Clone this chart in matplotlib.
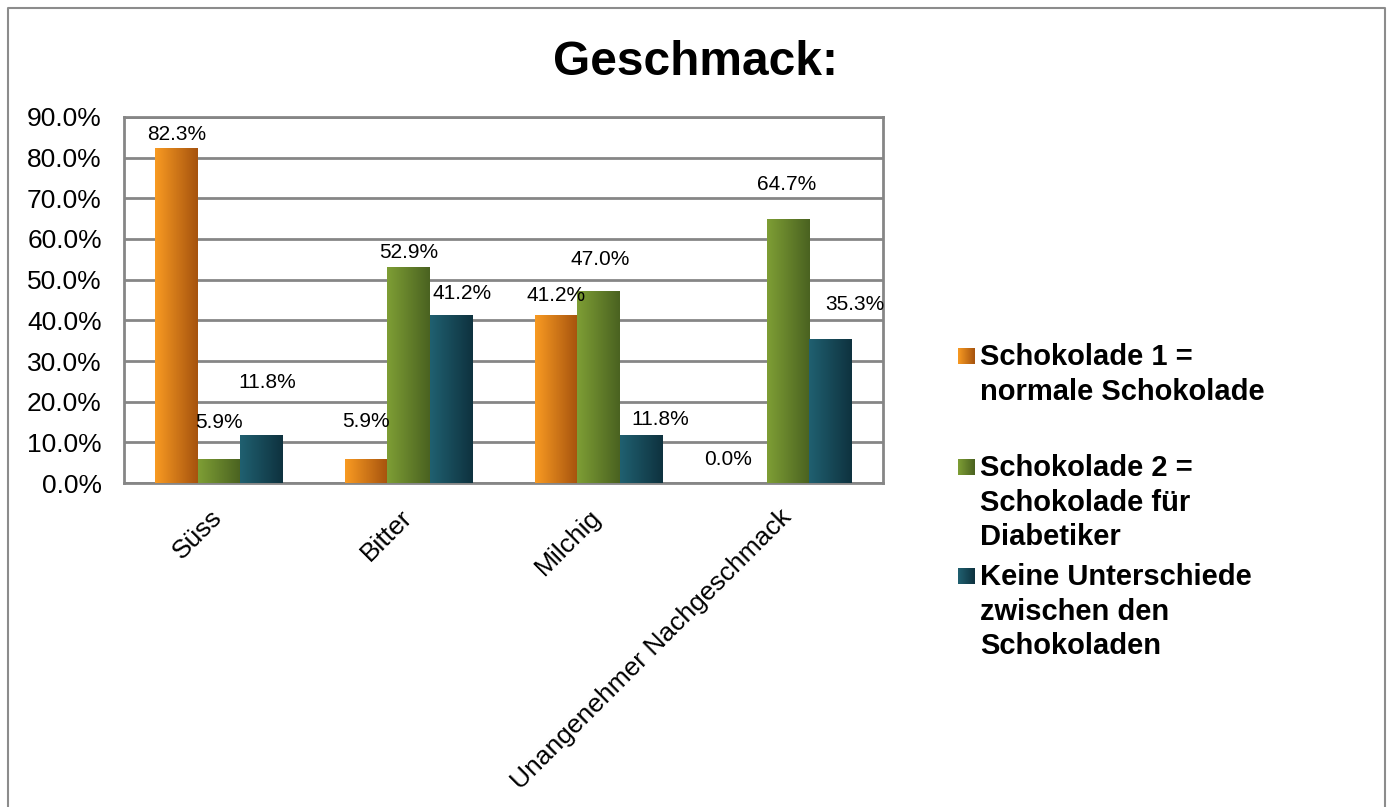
import numpy as np
import matplotlib
matplotlib.use("Agg")
import matplotlib.pyplot as plt
from matplotlib.colors import LinearSegmentedColormap
from matplotlib.transforms import ScaledTranslation

plt.rcParams['font.family'] = ['Liberation Sans', 'DejaVu Sans']

# data
categories = ['Süss', 'Bitter', 'Milchig', 'Unangenehmer Nachgeschmack']
series_names = ['Schokolade 1 =\nnormale Schokolade',
                'Schokolade 2 =\nSchokolade für\nDiabetiker',
                'Keine Unterschiede\nzwischen den\nSchokoladen']
schoko1 = [82.3, 5.9, 41.2, 0.0]
schoko2 = [5.9, 52.9, 47.0, 64.7]
keine = [11.8, 41.2, 11.8, 35.3]
yticks = [0, 10, 20, 30, 40, 50, 60, 70, 80, 90]

# label placement (Excel put some labels away from the bar tops)
label_y = [[85.6, 15.2, 46.0, 5.9],
           [14.8, 56.8, 55.0, 73.3],
           [24.6, 46.7, 15.7, 43.8]]
label_dx = [[0.0, 0.0, 0.0, -0.09],
            [0.0, 0.0, 0.01, -0.01],
            [0.03, 0.055, 0.10, 0.13]]

grads = [('#F89A22', '#A6530E'),
         ('#7E9E35', '#4A6220'),
         ('#206070', '#0E323F')]

fig = plt.figure(figsize=(13.91, 8.07), dpi=100)
W, H = 1391, 807
ax = fig.add_axes([124 / W, 1 - 483 / H, (883 - 124) / W, (483 - 117) / H])

x = np.arange(len(categories))
bw = 0.224
offsets = [-bw, 0, bw]
values = [schoko1, schoko2, keine]
grad = np.linspace(0, 1, 64).reshape(1, -1)

for i, vals in enumerate(values):
    bars = ax.bar(x + offsets[i], vals, bw, color='none', zorder=3)
    cmap = LinearSegmentedColormap.from_list('g%d' % i, grads[i])
    for b in bars:
        bx, bwid, bh = b.get_x(), b.get_width(), b.get_height()
        if bh <= 0:
            continue
        ax.imshow(grad, extent=[bx, bx + bwid, 0, bh], aspect='auto',
                  cmap=cmap, zorder=3, interpolation='bicubic')
    for j, v in enumerate(vals):
        ax.text(x[j] + offsets[i] + label_dx[i][j], label_y[i][j], '%.1f%%' % v,
                ha='center', va='center', fontsize=15, zorder=4)

ax.set_xlim(-0.5, len(categories) - 0.5)
ax.set_ylim(0, 90)
ax.set_yticks(yticks)
ax.set_yticklabels(['%.1f%%' % t for t in yticks], fontsize=19)
ax.set_xticks(x)
ax.set_xticklabels([])
# category labels drawn by hand so they can be nudged like Excel does
cat_tr = ax.get_xaxis_transform() + ScaledTranslation(8 / 100, -22 / 100, fig.dpi_scale_trans)
for j, c in enumerate(categories):
    ax.text(x[j], 0, c, transform=cat_tr, fontsize=19, rotation=45,
            ha='right', va='top', clip_on=False)
ax.tick_params(axis='both', length=0)
ax.tick_params(axis='y', pad=16)
ax.grid(axis='y', color='#868686', linewidth=2, zorder=1)
for s in ax.spines.values():
    s.set_color('#868686')
    s.set_linewidth(2)

fig.text(696 / W, 1 - 75 / H, 'Geschmack:', fontsize=34.5, fontweight='bold',
         ha='center', va='baseline')

# legend
leg_tops = [348, 459, 568]
for i, name in enumerate(series_names):
    mk = fig.add_axes([958 / W, 1 - (leg_tops[i] + 16) / H, 16 / W, 16 / H])
    cmap = LinearSegmentedColormap.from_list('l%d' % i, grads[i])
    mk.imshow(grad, aspect='auto', cmap=cmap, interpolation='bicubic')
    mk.axis('off')
    fig.text(980 / W, 1 - (leg_tops[i] - 5) / H, name, fontsize=21,
             fontweight='bold', ha='left', va='top', linespacing=1.3)

# outer frame
fig.add_artist(plt.Line2D([8 / W, 8 / W, 1385 / W, 1385 / W], [0, 1 - 8 / H, 1 - 8 / H, 0],
                          color='#8c8c8c', linewidth=1.5))

fig.savefig('out.png', dpi=100)
